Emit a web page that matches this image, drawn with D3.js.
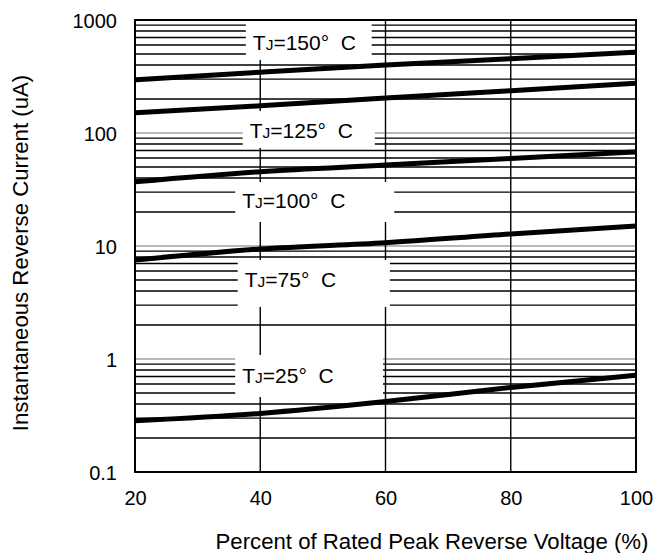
<!DOCTYPE html>
<html>
<head>
<meta charset="utf-8">
<script src="https://cdn.jsdelivr.net/npm/d3@7"></script>
<style>
  body { margin: 0; background: #fff; }
  svg { display: block; font-family: "Liberation Sans", Arial, sans-serif; }
</style>
</head>
<body>
<svg id="chart" width="656" height="553"></svg>
<script>
// values
var voltagePct = [20, 40, 60, 80, 100];
var tj150 = [295, 345, 400, 455, 520];
var tj125 = [151, 174, 204, 237, 275];
var tj100 = [37, 45.5, 52, 59.5, 68];
var tj75 = [7.5, 9.4, 10.7, 12.8, 15];
var tj25 = [0.284, 0.33, 0.42, 0.56, 0.72];

var xTicks = [20, 40, 60, 80, 100];
var yTicks = [0.1, 1, 10, 100, 1000];
var yTickLabels = ["0.1", "1", "10", "100", "1000"];

// annotation boxes (percent / uA units)
var labelTemp = ["150", "125", "100", "75", "25"];
var labelBoxX = [[37.7, 57.8], [37.2, 58.3], [36.0, 61.4], [36.4, 60.7], [36.0, 59.6]];
var labelBoxY = [[980, 443], [156.6, 73.7], [36.8, 16.3], [7.52, 2.89], [1.084, 0.461]];
var labelBaseline = [543, 90.4, 21.7, 4.36, 0.617];

window.onload = function () {
  drawChart();
};

function drawChart() {
  var svg = d3.select("#chart");
  var left = 135, right = 636, top = 20, bottom = 472;

  var x = d3.scaleLinear().domain([20, 100]).range([left, right]);
  var y = d3.scaleLog().domain([0.1, 1000]).range([bottom, top]);

  // horizontal grid: minor black, decades grey
  var grid = svg.append("g");
  y.ticks().forEach(function (v) {
    var lg = Math.log10(v);
    var major = Math.abs(lg - Math.round(lg)) < 1e-9;
    if (v <= 0.1 || v >= 1000) return;
    grid.append("line")
      .attr("x1", left).attr("x2", right)
      .attr("y1", y(v)).attr("y2", y(v))
      .attr("stroke", major ? "#a0a0a0" : "#000")
      .attr("stroke-width", major ? 1.6 : 1.4);
  });
  // vertical grid
  xTicks.slice(1, -1).forEach(function (v) {
    grid.append("line")
      .attr("x1", x(v)).attr("x2", x(v))
      .attr("y1", top).attr("y2", bottom)
      .attr("stroke", "#000")
      .attr("stroke-width", 1.4);
  });

  // white boxes behind temperature labels
  labelTemp.forEach(function (t, i) {
    svg.append("rect")
      .attr("x", x(labelBoxX[i][0]))
      .attr("y", y(labelBoxY[i][0]))
      .attr("width", x(labelBoxX[i][1]) - x(labelBoxX[i][0]))
      .attr("height", y(labelBoxY[i][1]) - y(labelBoxY[i][0]))
      .attr("fill", "#fff");

    var txt = svg.append("text")
      .attr("x", x(labelBoxX[i][0]) + 7)
      .attr("y", y(labelBaseline[i]))
      .attr("font-size", 21)
      .style("white-space", "pre");
    txt.append("tspan").text("T");
    txt.append("tspan").attr("font-size", 15.5).text("J");
    txt.append("tspan").text("=" + t + "°  C");
  });

  // curves
  var series = [tj150, tj125, tj100, tj75, tj25];
  var line = d3.line()
    .x(function (d, i) { return x(voltagePct[i]); })
    .y(function (d) { return y(d); })
    .curve(d3.curveMonotoneX);
  series.forEach(function (s) {
    svg.append("path")
      .attr("d", line(s))
      .attr("fill", "none")
      .attr("stroke", "#000")
      .attr("stroke-width", 5);
  });

  // frame
  svg.append("rect")
    .attr("x", left).attr("y", top)
    .attr("width", right - left).attr("height", bottom - top)
    .attr("fill", "none")
    .attr("stroke", "#000")
    .attr("stroke-width", 2);

  // axes (labels only)
  var xAxis = svg.append("g")
    .attr("transform", "translate(0," + bottom + ")")
    .call(d3.axisBottom(x).tickValues(xTicks).tickSize(0).tickPadding(19));
  var yAxis = svg.append("g")
    .attr("transform", "translate(" + left + ",0)")
    .call(d3.axisLeft(y).tickValues(yTicks).tickSize(0).tickPadding(18)
      .tickFormat(function (d, i) { return yTickLabels[i]; }));
  [xAxis, yAxis].forEach(function (a) {
    a.select(".domain").remove();
    a.selectAll("text")
      .attr("font-size", 20)
      .attr("font-family", "Liberation Sans, Arial, sans-serif")
      .attr("fill", "#000");
  });
  yAxis.selectAll("text").attr("dy", "0.38em");

  // axis titles
  svg.append("text")
    .attr("x", 432)
    .attr("y", 549)
    .attr("text-anchor", "middle")
    .attr("font-size", 22.2)
    .text("Percent of Rated Peak Reverse Voltage (%)");

  svg.append("text")
    .attr("transform", "translate(28,253) rotate(-90)")
    .attr("text-anchor", "middle")
    .attr("font-size", 22.2)
    .text("Instantaneous Reverse Current (uA)");
}
</script>
</body>
</html>
